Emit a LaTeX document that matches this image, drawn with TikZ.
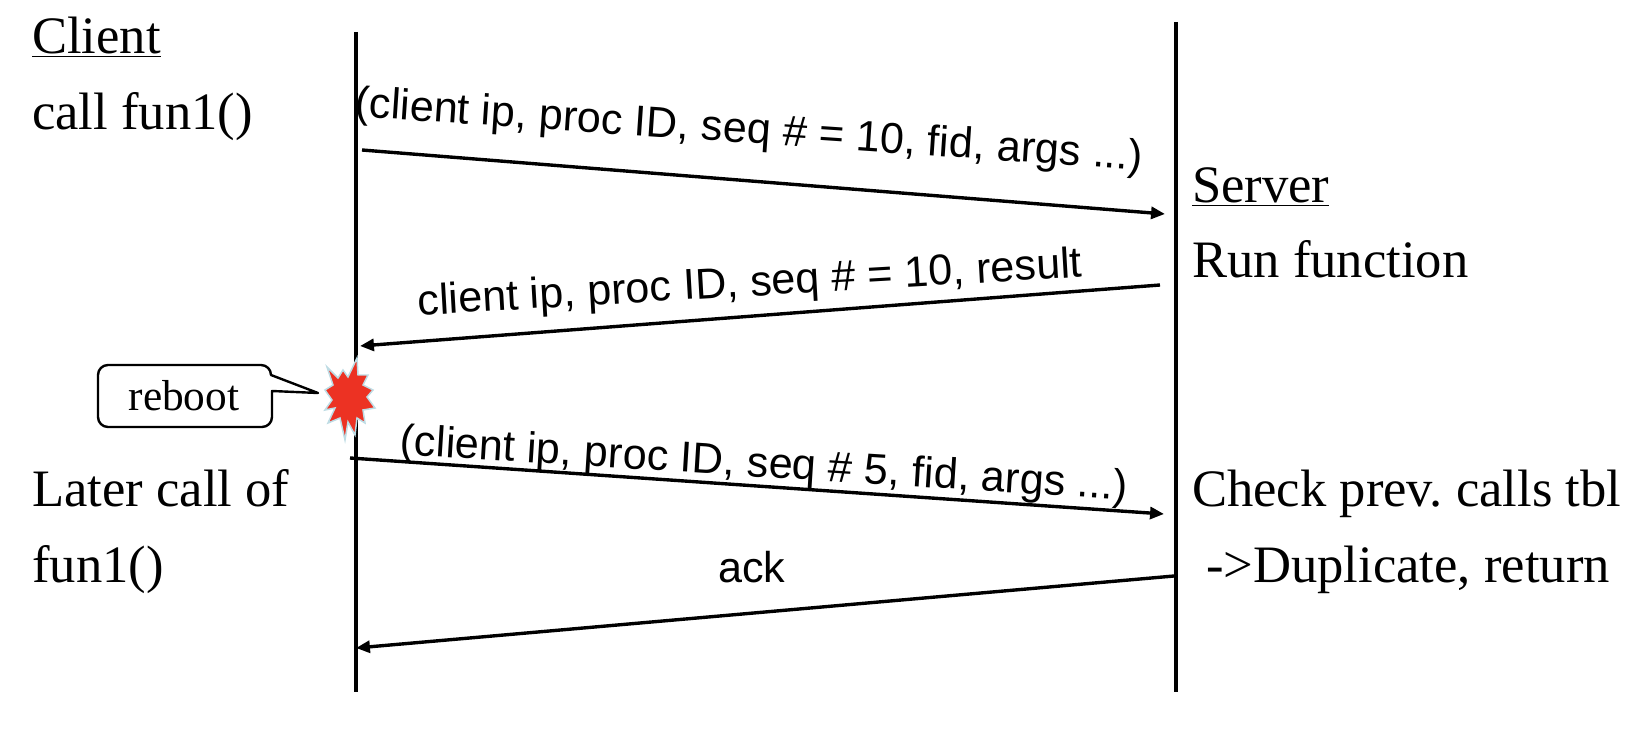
\documentclass[tikz,border=0pt]{standalone}
\usepackage{fontspec}
\setmainfont{Liberation Serif}
\newfontfamily\arialf{Liberation Sans}
\usetikzlibrary{arrows.meta}
\tikzset{x=0.0352778cm,y=-0.0352778cm,
 life/.style={line width=4.5pt,draw=black},
 msg/.style={line width=3.4pt,-{Triangle[length=14pt,width=12pt]}},
 lab/.style={font=\arialf\fontsize{43.3}{43.3}\selectfont,inner sep=0pt,anchor=center},
 txt/.style={font=\fontsize{52.8}{52.8}\selectfont,inner sep=0pt,anchor=base west}}
\definecolor{burstred}{RGB}{236,50,35}
\definecolor{burstedge}{RGB}{190,220,228}
\frenchspacing
\begin{document}
\begin{tikzpicture}
\useasboundingbox (0,0) rectangle (1634,740);
\coordinate (ct) at (356,32); \coordinate (cb) at (356,692);
\coordinate (st) at (1176,22); \coordinate (sb) at (1176,692);
\draw[life] (ct) -- (cb);
\draw[life] (st) -- (sb);
\node[txt] (client) at (32,54) {\underline{Client}};
\node[txt] (call) at (32,130) {call fun1()};
\node[txt] (server) at (1192,203) {\underline{Server}};
\node[txt] (run) at (1192,277) {Run function};
\node[txt] (later) at (32,506) {Later call of};
\node[txt] (fun) at (32,582) {fun1()};
\node[txt] (check) at (1192,506) {Check prev. calls tbl};
\node[txt] (dup) at (1206,582) {->Duplicate, return};
\coordinate (a1) at (362,150); \coordinate (a2) at (1165,214);
\coordinate (b1) at (1160,285); \coordinate (b2) at (360,346);
\coordinate (c1) at (350,458); \coordinate (c2) at (1164,514);
\coordinate (d1) at (1174,576); \coordinate (d2) at (356,648);
\draw[msg] (a1) -- (a2);
\draw[msg] (b1) -- (b2);
\draw[msg] (c1) -- (c2);
\draw[msg] (d1) -- (d2);
\node[lab,rotate=-3.9] (l1) at (749,132) {(client ip, proc ID, seq \# = 10, fid, args ...)};
\node[lab,rotate=3.3] (l2) at (750,285) {client ip, proc ID, seq \# = 10, result};
\node[lab,rotate=-3.6] (l3) at (764,466) {(client ip, proc ID, seq \# 5, fid, args ...)};
\node[lab] (l4) at (752,567) {ack};
\draw[line width=2.4pt,line join=round,draw=black,fill=white]
 (271,375) [rounded corners=10pt] -- (271,365) -- (98,365) -- (98,427) -- (272,427) [sharp corners] -- (272,391) -- (318,393) -- cycle;
\node[font=\fontsize{43.5}{43.5}\selectfont,inner sep=0pt] (reboot) at (184,396) {reboot};
\filldraw[fill=burstred,draw=burstedge,line width=1.5pt,line join=miter]
 (327,367) -- (338,378) -- (343,370) -- (348,377) -- (357,358) -- (358,375) -- (368,375) -- (363,385) -- (373,390) -- (367,397) -- (375,408) -- (363,410) -- (365,423) -- (357,418) -- (355,435) -- (348,422) -- (345,440) -- (340,418) -- (328,423) -- (335,408) -- (325,410) -- (332,400) -- (325,390) -- (333,385) -- cycle;
\end{tikzpicture}
\end{document}
